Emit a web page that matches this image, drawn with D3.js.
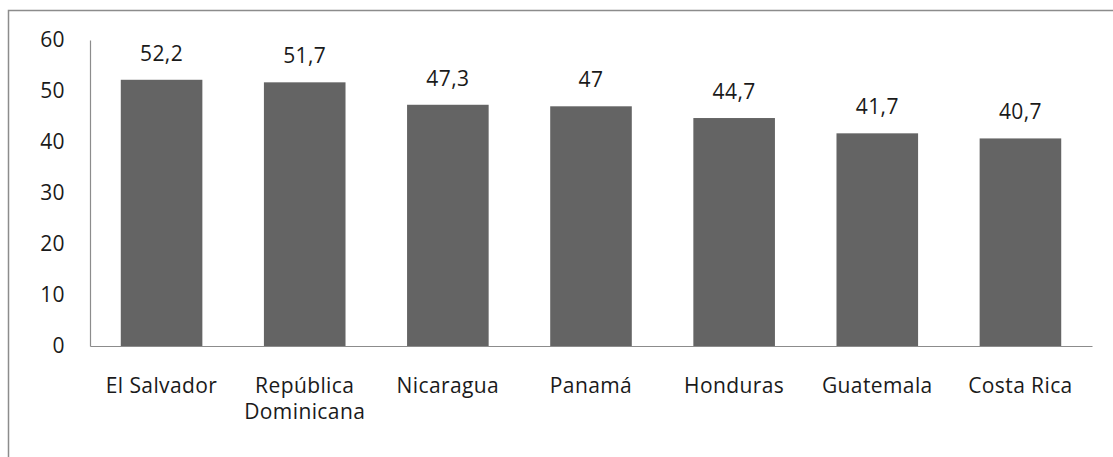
<!DOCTYPE html>
<html>
<head>
<meta charset="utf-8">
<script src="https://cdn.jsdelivr.net/npm/d3@7"></script>
<style>
  html, body { margin: 0; padding: 0; background: #fff; }
  svg { display: block; }
  text { font-family: "Open Sans", Lato, sans-serif; fill: #1a1a1a; }
</style>
</head>
<body>
<script>
const categories = ["El Salvador", "República Dominicana", "Nicaragua", "Panamá", "Honduras", "Guatemala", "Costa Rica"];
const categoryLines = [["El Salvador"], ["República", "Dominicana"], ["Nicaragua"], ["Panamá"], ["Honduras"], ["Guatemala"], ["Costa Rica"]];
const values = [52.2, 51.7, 47.3, 47, 44.7, 41.7, 40.7];
const valueLabels = ["52,2", "51,7", "47,3", "47", "44,7", "41,7", "40,7"];
const yTicks = [0, 10, 20, 30, 40, 50, 60];

const W = 1113, H = 457;
const svg = d3.select("body").append("svg").attr("width", W).attr("height", H);

// outer chart border (right/bottom edges fall outside the picture)
svg.append("rect").attr("x", 8.5).attr("y", 10.5).attr("width", 1120).attr("height", 470)
  .attr("fill", "none").attr("stroke", "#8c8c8c").attr("stroke-width", 1.5);

const plot = { left: 90, right: 1092, top: 40, bottom: 346 };
const x = d3.scaleBand().domain(categories).range([plot.left, plot.right]).paddingInner(0.43).paddingOuter(0.215);
const y = d3.scaleLinear().domain([0, 60]).range([plot.bottom, plot.top]);

const fs = 21;
const ls = 0.4;
const ff = "'Open Sans', Lato, sans-serif";

// bars
svg.append("g").selectAll("rect").data(values).join("rect")
  .attr("x", (d, i) => x(categories[i]))
  .attr("y", d => y(d))
  .attr("width", x.bandwidth())
  .attr("height", d => y(0) - y(d))
  .attr("fill", "#646464");

// y axis
const yAxis = d3.axisLeft(y).tickValues(yTicks).tickSize(0).tickPadding(25).tickFormat(d3.format("d"));
const gy = svg.append("g").attr("transform", `translate(${plot.left},0)`).call(yAxis);
gy.select(".domain").attr("stroke", "#8c8c8c").attr("stroke-width", 1.2);
gy.selectAll("text").attr("font-size", fs).attr("font-family", ff).attr("fill", "#1a1a1a").attr("letter-spacing", ls);

// x axis baseline
const xAxis = d3.axisBottom(x).tickSize(0).tickFormat("");
const gx = svg.append("g").attr("transform", `translate(0,${plot.bottom})`).call(xAxis);
gx.select(".domain").attr("stroke", "#8c8c8c").attr("stroke-width", 1.2);

// x category labels
const lab = svg.append("g").selectAll("text").data(categoryLines).join("text")
  .attr("text-anchor", "middle")
  .attr("font-size", fs)
  .attr("letter-spacing", ls)
  .attr("x", (d, i) => x(categories[i]) + x.bandwidth() / 2)
  .attr("y", 393);
lab.selectAll("tspan").data(d => d).join("tspan")
  .attr("x", function() { return this.parentNode.getAttribute("x"); })
  .attr("dy", (d, i) => i === 0 ? 0 : 26)
  .text(d => d);

// value labels
svg.append("g").selectAll("text").data(values).join("text")
  .attr("text-anchor", "middle")
  .attr("font-size", fs)
  .attr("letter-spacing", ls)
  .attr("x", (d, i) => x(categories[i]) + x.bandwidth() / 2)
  .attr("y", d => y(d) - 19)
  .text((d, i) => valueLabels[i]);
</script>
</body>
</html>
